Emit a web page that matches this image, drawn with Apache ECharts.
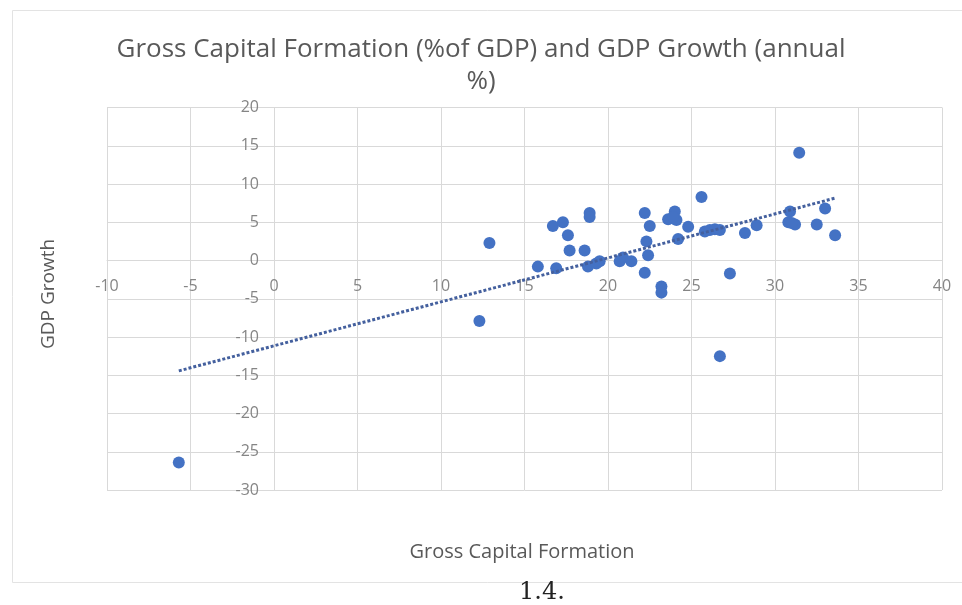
<!DOCTYPE html>
<html>
<head>
<meta charset="utf-8">
<script src="https://cdn.jsdelivr.net/npm/echarts@6/dist/echarts.min.js"></script>
<style>
html,body{margin:0;padding:0;background:#fff;}
#chart{width:962px;height:605px;}
</style>
</head>
<body>
<div id="chart"></div>
<script>
// Gross Capital Formation (% of GDP)
const gcf = [-5.7, 12.3, 12.9, 15.8, 16.9, 16.7, 17.3, 17.6, 17.7, 18.6,
  18.9, 18.9, 18.8, 19.3, 19.5, 20.7, 20.9, 21.4, 22.2, 22.5,
  22.3, 22.4, 22.2, 23.2, 23.2, 23.6, 24.0, 24.1, 23.9, 24.2,
  24.8, 25.6, 25.8, 26.1, 26.4, 26.7, 26.7, 27.3, 28.2, 28.9,
  30.9, 30.8, 31.2, 31.45, 32.5, 33.0, 33.6, 31.0];
// GDP Growth (annual %)
const growth = [-26.4, -7.9, 2.3, -0.8, -1.0, 4.5, 5.0, 3.3, 1.3, 1.3,
  6.2, 5.7, -0.8, -0.4, -0.1, -0.1, 0.4, -0.1, 6.2, 4.5,
  2.5, 0.7, -1.6, -3.4, -4.2, 5.4, 6.4, 5.3, 5.7, 2.8,
  4.4, 8.3, 3.8, 4.0, 4.1, 4.0, -12.5, -1.7, 3.6, 4.6,
  6.4, 5.0, 4.7, 14.1, 4.7, 6.8, 3.3, 4.9];
const titleText = 'Gross Capital Formation (%of GDP) and GDP Growth (annual\n%)';
const xTitle = 'Gross Capital Formation';
const yTitle = 'GDP Growth';
const caption = '1.4.';
const xRange = [-10, 40];
const yRange = [-30, 20];
const step = 5;

// linear trendline (least squares), as Excel does
const n = gcf.length;
const mx = gcf.reduce((a, b) => a + b, 0) / n;
const my = growth.reduce((a, b) => a + b, 0) / n;
let sxy = 0, sxx = 0;
for (let i = 0; i < n; i++) { sxy += (gcf[i] - mx) * (growth[i] - my); sxx += (gcf[i] - mx) ** 2; }
const slope = sxy / sxx, icpt = my - slope * mx;
const xmin = Math.min(...gcf), xmax = Math.max(...gcf);
const trend = [[xmin, icpt + slope * xmin], [xmax, icpt + slope * xmax]];
const points = gcf.map((x, i) => [x, growth[i]]);

// plot rectangle
const G = {left: 107, right: 20, top: 107.5, bottom: 115};
const W = 962 - G.left - G.right, H = 605 - G.top - G.bottom;
// axes cross at zero: shift each axis from the grid edge to the zero line
const xAxisShift = -H * (0 - yRange[0]) / (yRange[1] - yRange[0]);
const yAxisShift = -W * (0 - xRange[0]) / (xRange[1] - xRange[0]);

const chart = echarts.init(document.getElementById('chart'), null, {renderer: 'canvas'});
const gridC = '#d9d9d9';
const txtC = '#595959';
const font = 'Open Sans';
chart.setOption({
  backgroundColor: '#fff',
  animation: false,
  title: {
    text: titleText, left: 'center', top: 29,
    textStyle: {fontFamily: font, fontSize: 26, fontWeight: 'normal', color: txtC, lineHeight: 32}
  },
  grid: Object.assign({containLabel: false}, G),
  xAxis: {
    type: 'value', min: xRange[0], max: xRange[1], interval: step,
    position: 'bottom', offset: xAxisShift,
    axisLine: {show: true, onZero: false, lineStyle: {color: gridC, width: 1}},
    axisTick: {show: false},
    axisLabel: {margin: 18, fontFamily: font, fontSize: 16, color: '#858585', hideOverlap: false},
    splitLine: {show: true, lineStyle: {color: gridC, width: 1}}
  },
  yAxis: {
    type: 'value', min: yRange[0], max: yRange[1], interval: step,
    position: 'left', offset: yAxisShift,
    axisLine: {show: true, onZero: false, lineStyle: {color: gridC, width: 1}},
    axisTick: {show: false},
    axisLabel: {margin: 15, fontFamily: font, fontSize: 16, color: '#858585', hideOverlap: false},
    splitLine: {show: true, lineStyle: {color: gridC, width: 1}}
  },
  graphic: [
    {type: 'rect', silent: true, shape: {x: 12.5, y: 10.5, width: 960, height: 572}, style: {fill: 'none', stroke: '#e3e3e3', lineWidth: 1}, z: -10},
    {type: 'text', position: [522, 552], style: {text: xTitle, x: 0, y: 0, font: '20px "Open Sans"', fill: txtC, textAlign: 'center', textVerticalAlign: 'middle'}},
    {type: 'text', rotation: Math.PI / 2, position: [49, 294], style: {text: yTitle, x: 0, y: 0, font: '19px "Open Sans"', fill: txtC, textAlign: 'center', textVerticalAlign: 'middle'}},
    {type: 'text', position: [542, 593], style: {text: caption, x: 0, y: 0, font: '24px "DejaVu Serif"', fill: '#222', textAlign: 'center', textVerticalAlign: 'middle'}}
  ],
  series: [
    {
      type: 'scatter', data: points, symbolSize: 12,
      itemStyle: {color: '#4472C4', opacity: 1}, z: 3
    },
    {
      type: 'line', data: trend, showSymbol: false, symbol: 'none',
      lineStyle: {color: '#44609E', width: 3, type: [3, 2]}, z: 4
    }
  ]
});
</script>
</body>
</html>
